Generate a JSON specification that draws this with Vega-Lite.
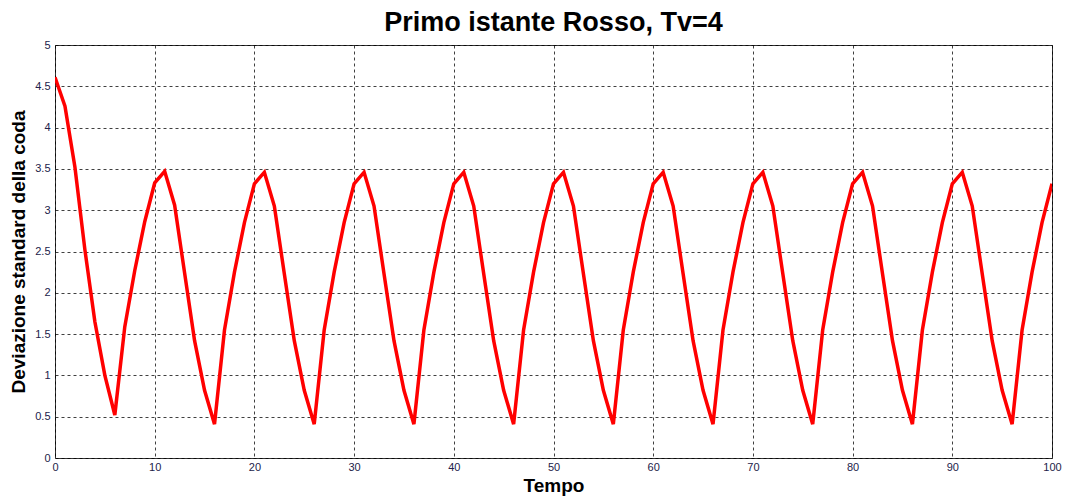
{
  "$schema": "https://vega.github.io/schema/vega-lite/v6.json",
  "autosize": "none",
  "width": 997,
  "height": 413,
  "padding": {"left": 55, "top": 45, "right": 13, "bottom": 42},
  "background": "white",
  "title": {"text": "Primo istante Rosso, Tv=4", "font": "Liberation Sans", "fontSize": 27, "fontWeight": "bold", "color": "#000", "offset": 2, "anchor": "middle"},
  "config": {
    "view": {"stroke": "#333", "strokeWidth": 1},
    "axis": {
      "labelFont": "Liberation Sans", "labelFontSize": 11, "labelColor": "#22224a",
      "titleFont": "Liberation Sans", "titleFontSize": 19, "titleFontWeight": "bold", "titleColor": "#000",
      "grid": true, "gridColor": "#000", "gridDash": [3, 3], "gridOpacity": 0.75, "gridWidth": 1,
      "ticks": false, "domain": false
    }
  },
  "data": {"values": [
    {"t": 0, "v": 4.61}, {"t": 1, "v": 4.26}, {"t": 2, "v": 3.52}, {"t": 3, "v": 2.52}, {"t": 4, "v": 1.65},
    {"t": 5, "v": 1.0}, {"t": 6, "v": 0.52}, {"t": 7, "v": 1.59}, {"t": 8, "v": 2.27}, {"t": 9, "v": 2.86},
    {"t": 10, "v": 3.33}, {"t": 11, "v": 3.47}, {"t": 12, "v": 3.06}, {"t": 13, "v": 2.24}, {"t": 14, "v": 1.42},
    {"t": 15, "v": 0.82}, {"t": 16, "v": 0.41}, {"t": 17, "v": 1.55}, {"t": 18, "v": 2.25}, {"t": 19, "v": 2.85},
    {"t": 20, "v": 3.32}, {"t": 21, "v": 3.46}, {"t": 22, "v": 3.05}, {"t": 23, "v": 2.23}, {"t": 24, "v": 1.42},
    {"t": 25, "v": 0.82}, {"t": 26, "v": 0.41}, {"t": 27, "v": 1.55}, {"t": 28, "v": 2.25}, {"t": 29, "v": 2.85},
    {"t": 30, "v": 3.32}, {"t": 31, "v": 3.46}, {"t": 32, "v": 3.05}, {"t": 33, "v": 2.23}, {"t": 34, "v": 1.42},
    {"t": 35, "v": 0.82}, {"t": 36, "v": 0.41}, {"t": 37, "v": 1.55}, {"t": 38, "v": 2.25}, {"t": 39, "v": 2.85},
    {"t": 40, "v": 3.32}, {"t": 41, "v": 3.46}, {"t": 42, "v": 3.05}, {"t": 43, "v": 2.23}, {"t": 44, "v": 1.42},
    {"t": 45, "v": 0.82}, {"t": 46, "v": 0.41}, {"t": 47, "v": 1.55}, {"t": 48, "v": 2.25}, {"t": 49, "v": 2.85},
    {"t": 50, "v": 3.32}, {"t": 51, "v": 3.46}, {"t": 52, "v": 3.05}, {"t": 53, "v": 2.23}, {"t": 54, "v": 1.42},
    {"t": 55, "v": 0.82}, {"t": 56, "v": 0.41}, {"t": 57, "v": 1.55}, {"t": 58, "v": 2.25}, {"t": 59, "v": 2.85},
    {"t": 60, "v": 3.32}, {"t": 61, "v": 3.46}, {"t": 62, "v": 3.05}, {"t": 63, "v": 2.23}, {"t": 64, "v": 1.42},
    {"t": 65, "v": 0.82}, {"t": 66, "v": 0.41}, {"t": 67, "v": 1.55}, {"t": 68, "v": 2.25}, {"t": 69, "v": 2.85},
    {"t": 70, "v": 3.32}, {"t": 71, "v": 3.46}, {"t": 72, "v": 3.05}, {"t": 73, "v": 2.23}, {"t": 74, "v": 1.42},
    {"t": 75, "v": 0.82}, {"t": 76, "v": 0.41}, {"t": 77, "v": 1.55}, {"t": 78, "v": 2.25}, {"t": 79, "v": 2.85},
    {"t": 80, "v": 3.32}, {"t": 81, "v": 3.46}, {"t": 82, "v": 3.05}, {"t": 83, "v": 2.23}, {"t": 84, "v": 1.42},
    {"t": 85, "v": 0.82}, {"t": 86, "v": 0.41}, {"t": 87, "v": 1.55}, {"t": 88, "v": 2.25}, {"t": 89, "v": 2.85},
    {"t": 90, "v": 3.32}, {"t": 91, "v": 3.46}, {"t": 92, "v": 3.05}, {"t": 93, "v": 2.23}, {"t": 94, "v": 1.42},
    {"t": 95, "v": 0.82}, {"t": 96, "v": 0.41}, {"t": 97, "v": 1.55}, {"t": 98, "v": 2.25}, {"t": 99, "v": 2.85},
    {"t": 100, "v": 3.32}
  ]},
  "mark": {"type": "line", "color": "#ff0000", "strokeWidth": 3.5, "strokeJoin": "miter", "clip": true},
  "encoding": {
    "x": {"field": "t", "type": "quantitative", "title": "Tempo",
      "scale": {"domain": [0, 100], "nice": false, "zero": false},
      "axis": {"values": [0, 10, 20, 30, 40, 50, 60, 70, 80, 90, 100], "format": "d", "labelPadding": 3, "titlePadding": 4, "labelFlush": false}},
    "y": {"field": "v", "type": "quantitative", "title": "Deviazione standard della coda",
      "scale": {"domain": [0, 5], "nice": false},
      "axis": {"values": [0, 0.5, 1, 1.5, 2, 2.5, 3, 3.5, 4, 4.5, 5], "format": "~g", "labelPadding": 5, "titlePadding": 6, "labelFlush": false}}
  }
}
